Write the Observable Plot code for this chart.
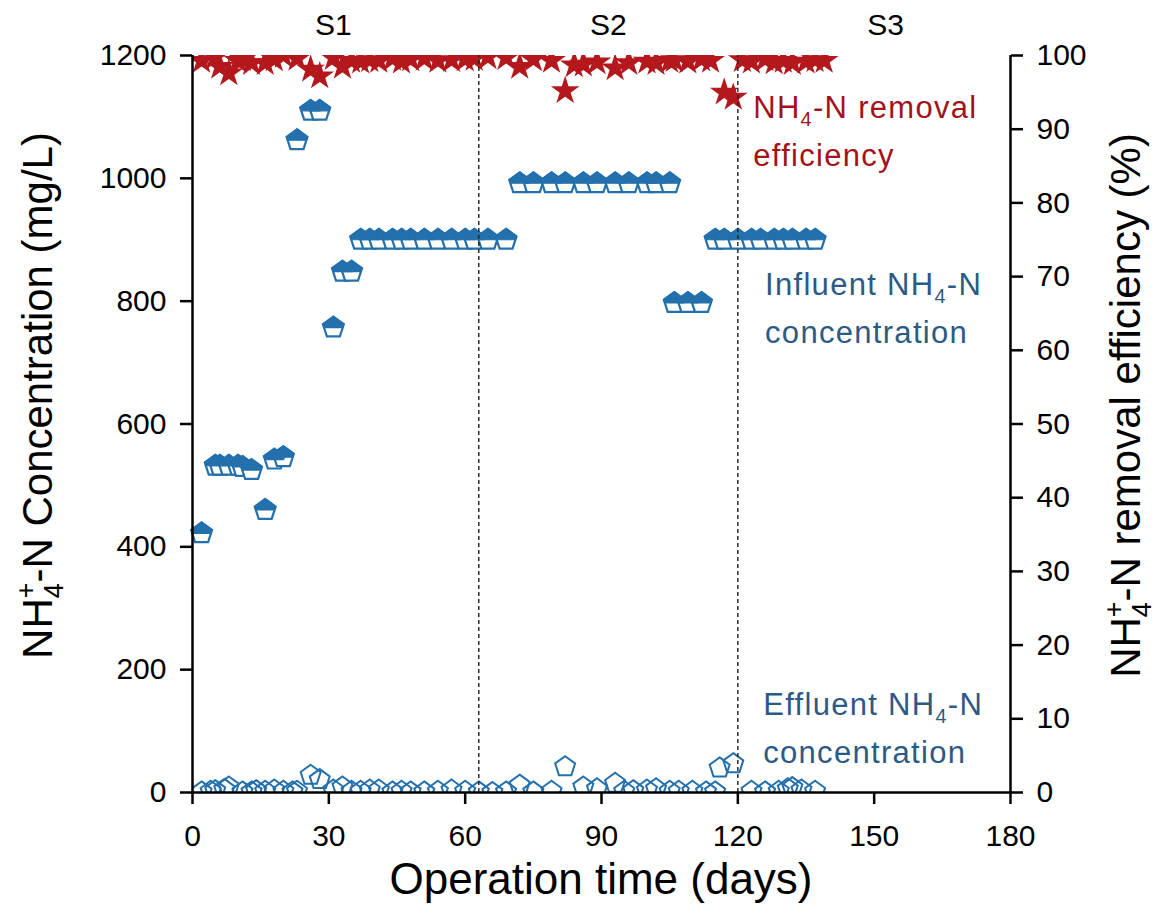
<!DOCTYPE html>
<html>
<head>
<meta charset="utf-8">
<script src="https://cdn.jsdelivr.net/npm/d3@7"></script>
<script src="https://cdn.jsdelivr.net/npm/@observablehq/plot@0.6"></script>
<style>
  html, body { margin: 0; padding: 0; background: #fff; }
  #chart svg { display: block; }
</style>
</head>
<body>
<div id="chart"></div>
<script>
// ---------------- data ----------------
const influentDays = [2,5,6,8,10,11,13,16,18,20,23,26,28,31,33,35,37,39,41,44,46,48,51,54,57,60,62,65,69,72,75,79,82,86,89,93,96,100,102,105,106,109,112,115,117,120,123,125,128,130,132,135,137];
const influentValues = [422,532,532,532,532,530,525,460,542,546,1062,1110,1110,757,848,848,
  900,900,900,900,900,900,900,900,900,900,900,900,900,
  992,992,992,992,992,992,992,992,992,992,992,
  797,797,797,
  900,900,900,900,900,900,900,900,900,900];

const effluentDays = [2,4,5,7,8,11,13,14,16,18,20,22,23,26,28,31,33,35,37,39,41,44,46,48,51,54,57,60,63,66,69,72,75,79,82,86,89,93,95,97,100,102,105,107,110,113,115,116,119,123,126,129,131,132,134,137];
const effluentValues = [1,2,3,5,9,1,1,3,2,4,2,1,2,28,21,4,9,2,2,4,4,1,2,1,1,2,4,2,1,0,1,12,1,2,42,9,6,15,2,3,4,6,2,2,2,1,1,40,47,2,1,2,6,8,4,2];

const removalDays = [2,5,6,8,10,11,13,16,18,20,23,26,28,31,33,35,37,39,41,44,46,48,51,54,57,60,62,65,69,72,75,79,82,84,86,89,93,96,100,102,105,106,109,112,114,117,119,121,123,126,128,130,132,135,137,139];
const removalValues = [99.3,99.8,98.5,97.6,99.3,99.5,99.0,99.0,99.5,100,99.6,98.1,97.2,99.7,98.5,99.3,99.2,99.4,99.3,99.6,99.2,99.5,99.6,99.3,99.4,99.5,99.6,99.8,99.7,98.5,99.5,99.3,95.2,98.7,98.8,99.1,98.3,99.0,99.2,99.0,99.3,99.4,99.2,99.5,99.3,95.0,94.3,99.4,99.2,99.5,99.1,99.3,99.0,99.2,99.4,99.3];

const xTicks = [0,30,60,90,120,150,180];
const concTicks = [0,200,400,600,800,1000,1200];
const effTicks = [0,10,20,30,40,50,60,70,80,90,100];
const stageBoundaries = [63,120];
const stageLabels = ["S1","S2","S3"];
const stageCenters = [31,91.5,152.5];

// ratio between the two y axes (1200 mg/L  <->  100 %)
const CONC_MAX = 1200, EFF_MAX = 100;
const k = CONC_MAX / EFF_MAX;

// ---------------- styles ----------------
const BLUE = "#2370ac";
const RED = "#b5181c";
const RED_TEXT = "#a3121a";
const BLUE_TEXT = "#2b5a86";
const FONT = "'Liberation Sans', Arial, Helvetica, sans-serif";

const influent = influentDays.map((d, i) => ({day: d, value: influentValues[i]}));
const effluent = effluentDays.map((d, i) => ({day: d, value: effluentValues[i]}));
const removal = removalDays.map((d, i) => ({day: d, value: removalValues[i]}));

// custom pentagon symbols
const pentagon = {
  draw(ctx, size) {
    const R = Math.sqrt(size / Math.PI);
    for (let i = 0; i < 5; i++) {
      const a = -Math.PI / 2 + i * 2 * Math.PI / 5;
      const x = R * Math.cos(a), y = R * Math.sin(a);
      if (i === 0) ctx.moveTo(x, y); else ctx.lineTo(x, y);
    }
    ctx.closePath();
  }
};
const pentagonTop = {
  draw(ctx, size) {
    const R = Math.sqrt(size / Math.PI);
    ctx.moveTo(0, -R);
    ctx.lineTo(0.951 * R, -0.309 * R);
    ctx.lineTo(0.8507 * R, 0);
    ctx.lineTo(-0.8507 * R, 0);
    ctx.lineTo(-0.951 * R, -0.309 * R);
    ctx.closePath();
  }
};

const chart = Plot.plot({
  width: 1157,
  height: 918,
  marginLeft: 192,
  marginRight: 147,
  marginTop: 55,
  marginBottom: 126,
  style: {fontFamily: FONT, color: "black", background: "white", overflow: "visible"},
  x: {domain: [0, 180]},
  y: {domain: [0, CONC_MAX]},
  marks: [
    // effluent (open pentagons)
    Plot.dot(effluent, {x: "day", y: "value", symbol: pentagon, r: 10.5, fill: "none", stroke: BLUE, strokeWidth: 2, clip: true}),
    // influent (half-filled pentagons)
    Plot.dot(influent, {x: "day", y: "value", symbol: pentagon, r: 11, fill: "white", stroke: BLUE, strokeWidth: 2.2}),
    Plot.dot(influent, {x: "day", y: "value", symbol: pentagonTop, r: 11, fill: BLUE, stroke: BLUE, strokeWidth: 1.2}),
    // removal efficiency (stars) on the right axis
    Plot.dot(removal, {x: "day", y: d => d.value * k, symbol: "star", r: 9, fill: RED, stroke: "none", clip: true}),
    // stage boundaries
    Plot.ruleX(stageBoundaries, {y1: 0, y2: CONC_MAX, stroke: "#222", strokeWidth: 1.4, strokeDasharray: "4,3"}),
    // axes
    Plot.axisX({ticks: xTicks, tickFormat: d => String(d), tickSize: 12, tickPadding: 20, fontSize: 30, strokeWidth: 2.5, label: null}),
    Plot.axisY({ticks: concTicks, tickFormat: d => String(d), anchor: "left", tickSize: 12, tickPadding: 14, fontSize: 30, strokeWidth: 2.5, label: null}),
    Plot.axisY({ticks: effTicks.map(v => v * k), tickFormat: d => String(Math.round(d / k)), anchor: "right", tickSize: 12, tickPadding: 14, fontSize: 30, strokeWidth: 2.5, label: null}),
    Plot.ruleY([0], {stroke: "black", strokeWidth: 2.5}),
    Plot.ruleX([0, 180], {stroke: "black", strokeWidth: 2.5}),
    // stage labels
    Plot.text(stageLabels, {x: (d, i) => stageCenters[i], frameAnchor: "top", lineAnchor: "middle", dy: -30, text: d => d, fontSize: 30, fill: "black"})
  ]
});

document.getElementById("chart").appendChild(chart);

// ---------------- rich text labels (sub/superscripts) ----------------
const svg = d3.select(chart);
const sx = v => chart.scale("x").apply(v);
const sy = v => chart.scale("y").apply(v);

// parts: array of [text, kind] where kind in "", "sub", "subsup"
function richText(g, parts, fs) {
  const t = g.append("text").attr("font-size", fs).attr("font-family", FONT);
  let pending = 0;
  const small = 0.64 * fs;
  for (const [txt, kind] of parts) {
    if (kind === "sub") {
      t.append("tspan").attr("font-size", small).attr("dy", pending + 0.26 * fs).text(txt);
      pending = -0.26 * fs;
    } else if (kind === "subsup") {
      const [s1, s2] = txt;
      t.append("tspan").attr("font-size", small).attr("dy", pending + 0.26 * fs).text(s1);
      t.append("tspan").attr("font-size", small).attr("dx", -0.556 * small).attr("dy", -0.66 * fs).text(s2);
      pending = 0.40 * fs;
    } else {
      const s = t.append("tspan").attr("font-size", fs).text(txt);
      if (pending) s.attr("dy", pending);
      pending = 0;
    }
  }
  return t;
}

// axis titles
const xTitle = svg.append("g");
richText(xTitle, [["Operation time (days)", ""]], 44)
  .attr("x", (sx(0) + sx(180)) / 2).attr("y", 894).attr("text-anchor", "middle").attr("fill", "black");

const yMid = (sy(0) + sy(CONC_MAX)) / 2;
const leftTitle = svg.append("g").attr("transform", `translate(52,${yMid - 28}) rotate(-90)`);
richText(leftTitle, [["NH", ""], [["4", "+"], "subsup"], ["-N Concentration (mg/L)", ""]], 42)
  .attr("text-anchor", "middle").attr("fill", "black");

const rightTitle = svg.append("g").attr("transform", `translate(1140,${yMid - 18}) rotate(-90)`);
richText(rightTitle, [["NH", ""], [["4", "+"], "subsup"], ["-N removal efficiency (%)", ""]], 42)
  .attr("text-anchor", "middle").attr("fill", "black");

// series annotations
function annotate(lines, day, value, color) {
  const g = svg.append("g").attr("transform", `translate(${sx(day)},${sy(value)})`);
  lines.forEach((parts, i) => {
    richText(g, parts, 31).attr("y", i * 48).attr("text-anchor", "start").attr("fill", color).attr("letter-spacing", 1.3);
  });
}
annotate([[["NH", ""], ["4", "sub"], ["-N removal", ""]], [["efficiency", ""]]], 123.5, 1097, RED_TEXT);
annotate([[["Influent NH", ""], ["4", "sub"], ["-N", ""]], [["concentration", ""]]], 126.1, 809, BLUE_TEXT);
annotate([[["Effluent NH", ""], ["4", "sub"], ["-N", ""]], [["concentration", ""]]], 125.7, 125, BLUE_TEXT);
</script>
</body>
</html>
